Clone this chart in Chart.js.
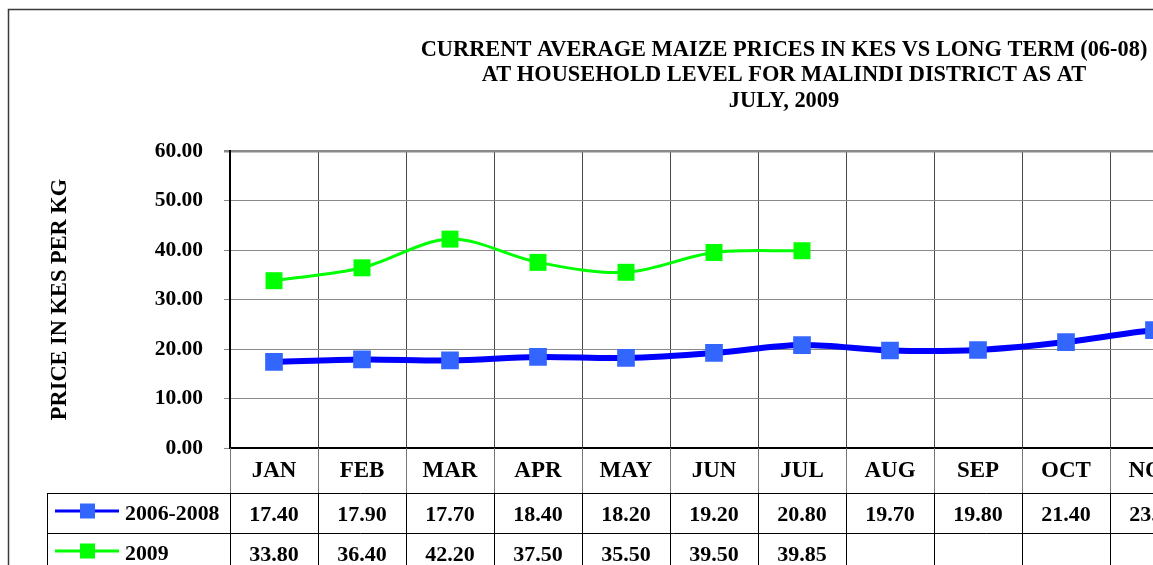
<!DOCTYPE html>
<html><head><meta charset="utf-8">
<script src="https://cdn.jsdelivr.net/npm/chart.js@4/dist/chart.umd.min.js"></script>
<style>
html,body{margin:0;padding:0;overflow:hidden;background:#fff;width:1153px;height:565px}
#wrap{position:absolute;left:0;top:0;width:1300px;height:600px}
</style></head>
<body><div id="wrap"><canvas id="c" width="1300" height="600"></canvas></div>
<script>
// ---- data ----
const months = ['JAN','FEB','MAR','APR','MAY','JUN','JUL','AUG','SEP','OCT','NOV','DEC'];
const longTerm = [17.40,17.90,17.70,18.40,18.20,19.20,20.80,19.70,19.80,21.40,23.80,24.50];
const current2009 = [33.80,36.40,42.20,37.50,35.50,39.50,39.85,null,null,null,null,null];
const seriesNames = ['2006-2008','2009'];
const titleLines = ['CURRENT AVERAGE MAIZE PRICES IN KES VS LONG TERM (06-08)','AT HOUSEHOLD LEVEL FOR MALINDI DISTRICT AS AT','JULY, 2009'];
const yAxisTitle = 'PRICE IN KES PER KG';
const yMin = 0, yMax = 60, yStep = 10;

const FONT = '"Liberation Serif","Times New Roman",serif';

const framePlugin = {
  id: 'frame',
  beforeDraw(chart) {
    const ctx = chart.ctx;
    ctx.save();
    ctx.fillStyle = '#fff';
    ctx.fillRect(0, 0, chart.width, chart.height);
    ctx.strokeStyle = '#3a3a3a';
    ctx.lineWidth = 1.5;
    ctx.strokeRect(8.5, 9.5, chart.width + 40, chart.height + 40);
    ctx.fillStyle = '#000';
    ctx.font = 'bold 22.4px ' + FONT;
    ctx.textAlign = 'center';
    ctx.textBaseline = 'middle';
    titleLines.forEach((t, i) => ctx.fillText(t, 784, 50 + i * 25.5));
    ctx.restore();
  },
  afterDraw(chart) {
    const ctx = chart.ctx;
    const x = chart.scales.x;
    const area = chart.chartArea;
    const half = (x.getPixelForValue(1) - x.getPixelForValue(0)) / 2;
    const rowTops = [493, 533, 573];
    const rowH = 40;
    const legLeft = 47;
    ctx.save();
    ctx.strokeStyle = '#777';
    ctx.lineWidth = 1;
    for (let i = 0; i <= months.length; i++) {
      const px = Math.round(x.getPixelForValue(0) - half + i * half * 2) + 0.5;
      ctx.beginPath(); ctx.moveTo(px, area.bottom); ctx.lineTo(px, rowTops[0]); ctx.stroke();
    }
    ctx.strokeStyle = '#000';
    for (let i = 0; i <= months.length; i++) {
      const px = Math.round(x.getPixelForValue(0) - half + i * half * 2) + 0.5;
      ctx.beginPath(); ctx.moveTo(px, rowTops[0]); ctx.lineTo(px, chart.height); ctx.stroke();
    }
    ctx.beginPath(); ctx.moveTo(legLeft + 0.5, rowTops[0]); ctx.lineTo(legLeft + 0.5, chart.height); ctx.stroke();
    rowTops.forEach(t => {
      ctx.beginPath(); ctx.moveTo(legLeft, t + 0.5); ctx.lineTo(chart.width, t + 0.5); ctx.stroke();
    });
    const series = [longTerm, current2009];
    chart.data.datasets.forEach((ds, r) => {
      const yc = rowTops[r] + rowH / 2;
      ctx.strokeStyle = ds.borderColor;
      ctx.lineWidth = 3;
      ctx.beginPath(); ctx.moveTo(55, yc - 2); ctx.lineTo(119, yc - 2); ctx.stroke();
      ctx.fillStyle = ds.pointBackgroundColor;
      ctx.fillRect(80, yc - 9.5, 15, 15);
      ctx.fillStyle = '#000';
      ctx.font = 'bold 21.8px ' + FONT;
      ctx.textAlign = 'left';
      ctx.textBaseline = 'middle';
      ctx.fillText(seriesNames[r], 125, yc + 1);
      ctx.font = 'bold 22px ' + FONT;
      ctx.textAlign = 'center';
      series[r].forEach((v, i) => {
        if (v === null) return;
        ctx.fillText(v.toFixed(2), x.getPixelForValue(i), yc + 2);
      });
    });
    ctx.restore();
  }
};

new Chart(document.getElementById('c'), {
  type: 'line',
  data: {
    labels: months,
    datasets: [
      {
        label: seriesNames[0], data: longTerm,
        borderColor: '#0000FF', borderWidth: 6,
        pointStyle: 'rect', pointRadius: 12.5, pointHoverRadius: 12.5,
        pointBackgroundColor: '#3366FF', pointBorderColor: '#3366FF', pointBorderWidth: 0,
        tension: 0.33, fill: false
      },
      {
        label: seriesNames[1], data: current2009,
        borderColor: '#00FF00', borderWidth: 3,
        pointStyle: 'rect', pointRadius: 12, pointHoverRadius: 12,
        pointBackgroundColor: '#00FF00', pointBorderColor: '#00FF00', pointBorderWidth: 0,
        tension: 0.33, fill: false, spanGaps: false
      }
    ]
  },
  options: {
    responsive: false,
    animation: false,
    devicePixelRatio: 1,
    layout: { padding: { top: 151, left: 0, right: 14, bottom: 0 } },
    plugins: { legend: { display: false }, tooltip: { enabled: false }, title: { display: false } },
    scales: {
      x: {
        offset: true,
        afterFit(scale) { scale.height = 152; },
        grid: { offset: true, color: '#4a4a4a', lineWidth: 1, drawTicks: false },
        border: { color: '#000', width: 2 },
        ticks: { color: '#000', font: { family: FONT, size: 23, weight: 'bold' }, padding: 9, maxRotation: 0, autoSkip: false }
      },
      y: {
        min: yMin, max: yMax,
        afterFit(scale) { scale.width = 230; },
        grid: { color: '#8a8a8a', lineWidth: c => (c.tick && c.tick.value === yMax ? 2.5 : 1), tickLength: 6 },
        border: { color: '#000', width: 2 },
        ticks: { stepSize: yStep, color: '#000', padding: 21, font: { family: FONT, size: 21.5, weight: 'bold' }, callback: v => Number(v).toFixed(2) },
        title: { display: true, text: yAxisTitle, color: '#000', font: { family: FONT, size: 22.4, weight: 'bold' }, padding: { top: 47, bottom: 0 } }
      }
    }
  },
  plugins: [framePlugin]
});
</script>
</body></html>
